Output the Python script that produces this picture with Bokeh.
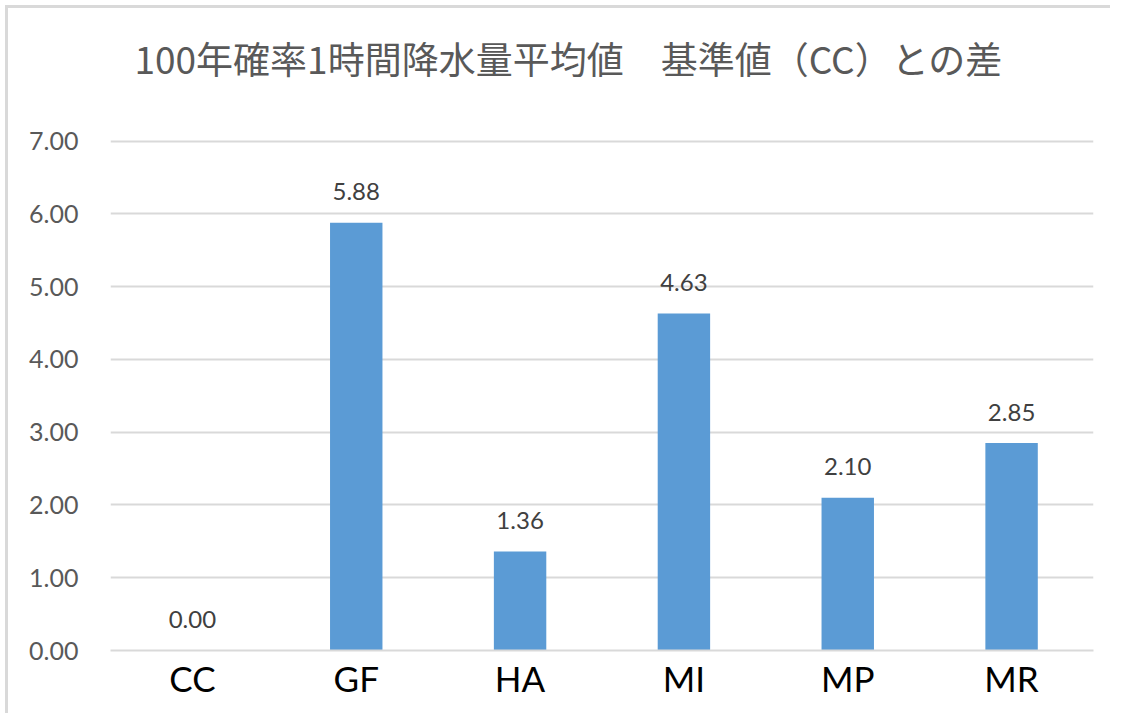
from bokeh.plotting import figure
from bokeh.models import ColumnDataSource, Range1d, FactorRange, FixedTicker, NumeralTickFormatter, Title
from bokeh.core.properties import value
from bokeh.embed import file_html
from bokeh.resources import INLINE

title_text = "100年確率1時間降水量平均値　基準値（CC）との差"
categories = ["CC", "GF", "HA", "MI", "MP", "MR"]
values = [0.00, 5.88, 1.36, 4.63, 2.10, 2.85]
y_ticks = [0, 1, 2, 3, 4, 5, 6, 7]

labels = ["%.2f" % v for v in values]
src = ColumnDataSource(dict(cat=categories, val=values, lab=labels))

p = figure(width=1105, height=708, output_backend="svg", toolbar_location=None,
           x_range=FactorRange(factors=categories, range_padding=0),
           y_range=Range1d(0, 7.05),
           min_border_left=102, min_border_right=20, min_border_bottom=66, min_border_top=129)

# spacer panel between plot area and title (closest to the frame)
p.add_layout(Title(text=" ", text_font_size="2px", standoff=27), "above")
# main title (outside the spacer)
p.add_layout(Title(text=title_text, align="left", offset=24, standoff=40, vertical_align="top",
                   text_font="Noto Sans CJK JP", text_font_size="37px",
                   text_font_style="normal", text_color="#595959"), "above")

p.vbar(x="cat", top="val", width=0.32, source=src, fill_color="#5b9bd5", line_color=None)
p.text(x="cat", y="val", text="lab", source=src, y_offset=-31,
       text_align="center", text_baseline="alphabetic",
       text_font=value("Lato"), text_font_size="24px", text_color="#404040")

p.xgrid.grid_line_color = None
p.ygrid.grid_line_color = "#d9d9d9"
p.ygrid.grid_line_width = 2
p.ygrid.ticker = FixedTicker(ticks=y_ticks)

p.yaxis.ticker = FixedTicker(ticks=y_ticks)
p.yaxis.formatter = NumeralTickFormatter(format="0.00")
p.yaxis.axis_line_color = None
p.yaxis.major_tick_line_color = None
p.yaxis.minor_tick_line_color = None
p.yaxis.major_label_standoff = 26
p.yaxis.major_label_text_font = "Lato"
p.yaxis.major_label_text_font_size = "25px"
p.yaxis.major_label_text_color = "#595959"

p.xaxis.axis_line_color = "#d9d9d9"
p.xaxis.axis_line_width = 2
p.xaxis.major_tick_line_color = None
p.xaxis.minor_tick_line_color = None
p.xaxis.major_label_standoff = 0
p.xaxis.major_label_text_font = "Lato"
p.xaxis.major_label_text_font_size = "35px"
p.xaxis.major_label_text_color = "#000000"

p.outline_line_color = None
p.border_fill_color = "white"
p.styles = {"border-left": "3px solid #d9d9d9", "border-top": "3px solid #d9d9d9",
            "margin-left": "5px", "margin-top": "5px"}

open("out.html", "w").write(file_html(p, INLINE))
